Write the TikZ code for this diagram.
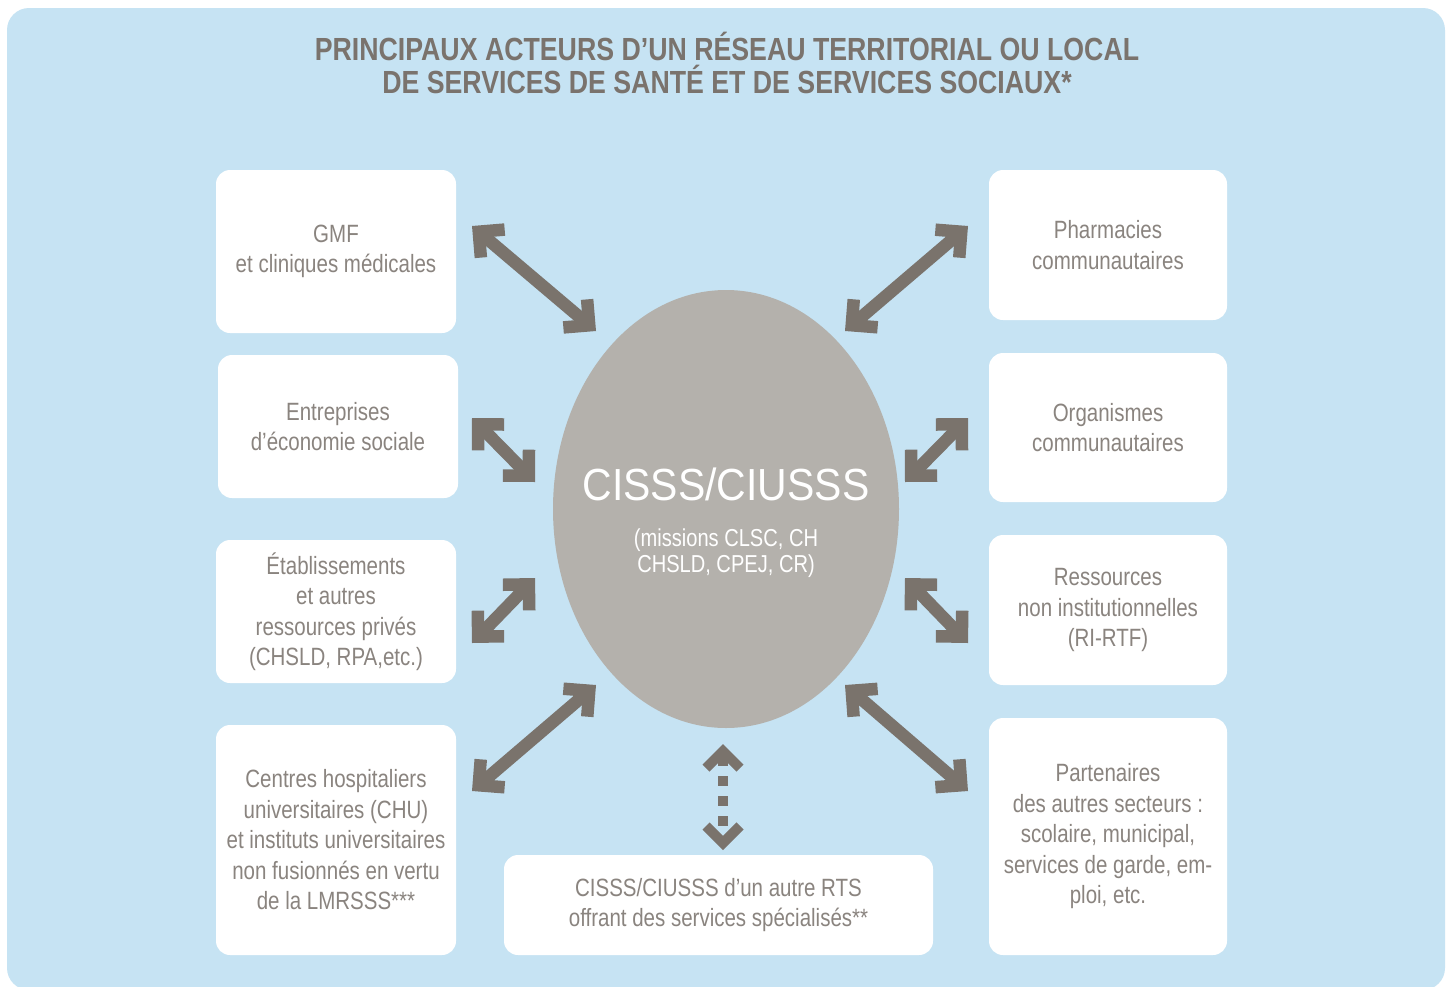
\documentclass[tikz,border=0pt]{standalone}
\usepackage{fontspec}
\setmainfont{Liberation Sans}[FakeStretch=0.82]
\newfontfamily\titlefont{Liberation Sans}[FakeStretch=0.835]
\newfontfamily\bigfont{Liberation Sans}[FakeStretch=0.91]
\usetikzlibrary{arrows.meta,shapes.geometric}
\definecolor{bgblue}{HTML}{C6E3F3}
\definecolor{ellgray}{HTML}{B4B1AC}
\definecolor{arrgray}{HTML}{7A736C}
\definecolor{txtgray}{HTML}{8A847F}
\definecolor{titlegray}{HTML}{7A736D}
\begin{document}
\begin{tikzpicture}[x=1pt,y=-1pt,
  box/.style={fill=white, rounded corners=14pt, inner sep=0pt, align=center,
    text=txtgray, font=\fontsize{25}{30.5}\selectfont},
  titletext/.style={anchor=base, text=titlegray, font=\titlefont\bfseries\fontsize{32}{34}\selectfont},
  biarrow/.style={draw=arrgray, line width=12.5pt,
    {Straight Barb[angle=90:26pt]}-{Straight Barb[angle=90:26pt]}},
  dotarrow/.style={draw=arrgray, line width=10pt, dash pattern=on 10pt off 10pt,
    {Straight Barb[angle=90:24pt]}-{Straight Barb[angle=90:24pt]}}]
\useasboundingbox (0,0) rectangle (1452,986);
\fill[white] (0,0) rectangle (1452,986);
\fill[bgblue, rounded corners=22pt] (7,8) rectangle (1445,990);

\node[titletext] (title1) at (727,60.5) {PRINCIPAUX ACTEURS D’UN RÉSEAU TERRITORIAL OU LOCAL};
\node[titletext] (title2) at (727,93.5) {DE SERVICES DE SANTÉ ET DE SERVICES SOCIAUX*};

% central ellipse
\node[ellipse, fill=ellgray, minimum width=346pt, minimum height=438pt, inner sep=0pt] (cis) at (726,509) {};
\node[anchor=base, text=white, font=\bigfont\fontsize{45}{45}\selectfont] (cisname) at (726,500) {CISSS/CIUSSS};
\node[anchor=base, text=white, font=\fontsize{24.5}{26}\selectfont] (mis1) at (726,546) {(missions CLSC, CH};
\node[anchor=base, text=white, font=\fontsize{24.5}{26}\selectfont] (mis2) at (726,572) {CHSLD, CPEJ, CR)};

% boxes
\node[box, minimum width=240pt, minimum height=163pt] (gmf) at (336,251.5) {GMF\\et cliniques médicales};
\node[box, minimum width=240pt, minimum height=143pt] (ent) at (338,426.5) {Entreprises\\d’économie sociale};
\node[box, minimum width=240pt, minimum height=143pt] (eta) at (336,611.5) {Établissements\\et autres\\ressources privés\\(CHSLD, RPA,etc.)};
\node[box, minimum width=240pt, minimum height=230pt] (chu) at (336,840) {Centres hospitaliers\\universitaires (CHU)\\et instituts universitaires\\non fusionnés en vertu\\de la LMRSSS***};
\node[box, minimum width=238pt, minimum height=150pt] (pha) at (1108,245) {Pharmacies\\communautaires};
\node[box, minimum width=238pt, minimum height=149pt] (org) at (1108,427.5) {Organismes\\communautaires};
\node[box, minimum width=238pt, minimum height=150pt] (res) at (1108,610) {Ressources\\non institutionnelles\\(RI-RTF)};
\node[box, minimum width=238pt, minimum height=237pt] (par) at (1108,836.5) {Partenaires\\des autres secteurs :\\scolaire, municipal,\\services de garde, em-\\ploi, etc.};
\node[box, minimum width=429pt, minimum height=100pt] (rts) at (718.5,905) {CISSS/CIUSSS d’un autre RTS\\offrant des services spécialisés**};

% arrow end points
\coordinate (a1s) at (472,226); \coordinate (a1e) at (596,331);
\coordinate (a2s) at (968,226); \coordinate (a2e) at (845,331);
\coordinate (a3s) at (472,418); \coordinate (a3e) at (535,482);
\coordinate (a4s) at (968,418); \coordinate (a4e) at (905,482);
\coordinate (a5s) at (535,578); \coordinate (a5e) at (472,643);
\coordinate (a6s) at (905,578); \coordinate (a6e) at (968,643);
\coordinate (a7s) at (596,685); \coordinate (a7e) at (472,791);
\coordinate (a8s) at (845,685); \coordinate (a8e) at (968,791);
\coordinate (dts) at (723,744); \coordinate (dte) at (723,850);

\draw[biarrow] (a1s) -- (a1e);
\draw[biarrow] (a2s) -- (a2e);
\draw[biarrow] (a3s) -- (a3e);
\draw[biarrow] (a4s) -- (a4e);
\draw[biarrow] (a5s) -- (a5e);
\draw[biarrow] (a6s) -- (a6e);
\draw[biarrow] (a7s) -- (a7e);
\draw[biarrow] (a8s) -- (a8e);
\draw[dotarrow] (dts) -- (dte);
\end{tikzpicture}
\end{document}
